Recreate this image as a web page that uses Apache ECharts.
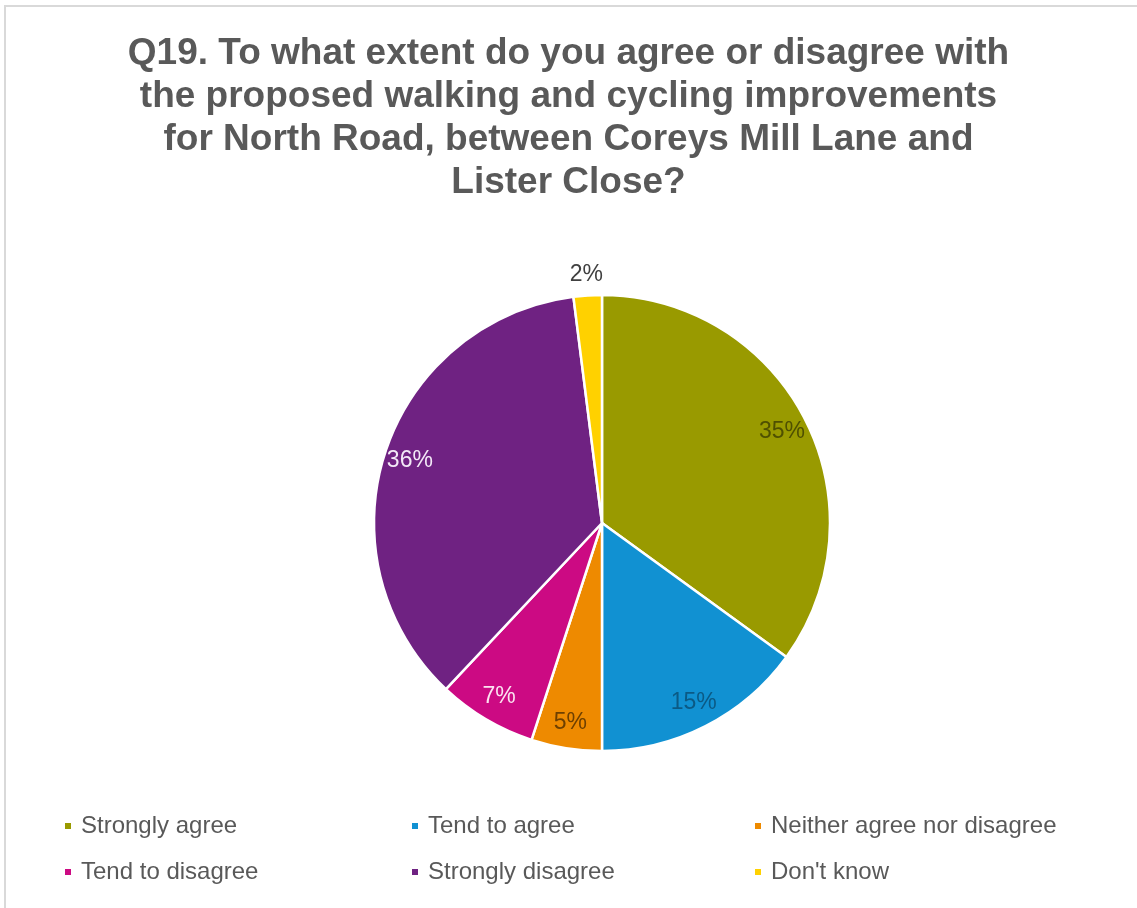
<!DOCTYPE html>
<html>
<head>
<meta charset="utf-8">
<title>Q19 North Road walking and cycling improvements</title>
<script src="https://cdn.jsdelivr.net/npm/echarts@6/dist/echarts.min.js"></script>
<style>
  html, body { margin: 0; padding: 0; background: #ffffff; }
  #chart { width: 1137px; height: 908px; }
</style>
</head>
<body>
<div id="chart"></div>
<script>
// Response categories, in clockwise order from 12 o'clock
const categories = [
  'Strongly agree',
  'Tend to agree',
  'Neither agree nor disagree',
  'Tend to disagree',
  'Strongly disagree',
  "Don't know"
];
// Share of respondents (%)
const shares = [35, 15, 5, 7, 36, 2];
const sliceColors = ['#999a00', '#1191d2', '#ee8a00', '#cc0a83', '#6f2282', '#ffd100'];
const labelColors = ['#4f5000', '#0b5a85', '#6e4000', '#fbe3f0', '#f3e9f7', '#404040'];
// Legend order: two rows of three
const legendRows = [
  ['Strongly agree', 'Tend to agree', 'Neither agree nor disagree'],
  ['Tend to disagree', 'Strongly disagree', "Don't know"]
];

const titleText = 'Q19. To what extent do you agree or disagree with\n' +
  'the proposed walking and cycling improvements\n' +
  'for North Road, between Coreys Mill Lane and\n' +
  'Lister Close?';

const FONT = '"Liberation Sans", Arial, sans-serif';
const CENTER = [602, 523];
const R = 228;

const pieData = categories.map((name, i) => ({
  name,
  value: shares[i],
  itemStyle: { color: sliceColors[i] }
}));

// Labels sit near the rim; very thin slices get theirs just outside it
const labelData = (showIf) => categories.map((name, i) => ({
  name,
  value: shares[i],
  label: { show: showIf(shares[i]), color: labelColors[i] }
}));

const labelSeries = (radius, showIf) => ({
  type: 'pie',
  center: CENTER,
  radius: radius,
  startAngle: 90,
  silent: true,
  animation: false,
  itemStyle: { color: 'rgba(0,0,0,0)', borderWidth: 0 },
  label: {
    position: 'inside',
    formatter: '{c}%',
    fontFamily: FONT,
    fontSize: 23
  },
  labelLine: { show: false },
  emphasis: { disabled: true },
  data: labelData(showIf)
});

const colLeft = [63, 410, 753];
const rowTop = [814, 860];
const legends = [];
legendRows.forEach((row, r) => {
  row.forEach((name, c) => {
    legends.push({
      data: [name],
      left: colLeft[c],
      top: rowTop[r],
      padding: 0,
      icon: 'rect',
      itemWidth: 8,
      itemHeight: 8,
      selectedMode: false,
      textStyle: {
        fontFamily: FONT,
        fontSize: 24,
        color: '#595959',
        padding: [0, 0, 0, 4]
      }
    });
  });
});

const chart = echarts.init(document.getElementById('chart'), null, { renderer: 'canvas' });
chart.setOption({
  backgroundColor: '#ffffff',
  animation: false,
  title: {
    text: titleText,
    left: 'center',
    top: 27,
    textStyle: {
      fontFamily: FONT,
      fontSize: 37,
      fontWeight: 'bold',
      color: '#595959',
      lineHeight: 43
    }
  },
  legend: legends,
  graphic: [{
    type: 'rect',
    shape: { x: 5, y: 6, width: 1200, height: 1000 },
    style: { fill: 'none', stroke: '#d9d9d9', lineWidth: 2 },
    silent: true,
    z: -1
  }],
  series: [
    {
      type: 'pie',
      center: CENTER,
      radius: [0, R],
      startAngle: 90,
      animation: false,
      itemStyle: { borderColor: '#ffffff', borderWidth: 2.5 },
      label: { show: false },
      labelLine: { show: false },
      emphasis: { disabled: true },
      data: pieData
    },
    labelSeries([170, R], v => v >= 3),
    labelSeries([R, 264], v => v < 3)
  ]
});
</script>
</body>
</html>
